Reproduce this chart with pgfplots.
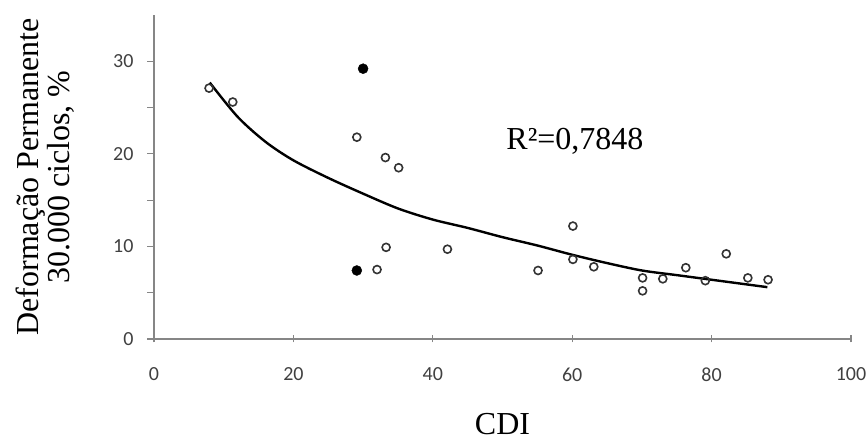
\documentclass[border=0pt]{standalone}
\usepackage{pgfplots}
\pgfplotsset{compat=1.18}
\usepackage{fontspec}
\setmainfont{Liberation Serif}
\newfontfamily\carlito{Carlito}
\definecolor{axisgray}{HTML}{868686}
\definecolor{ticktext}{HTML}{404040}
\definecolor{markgray}{HTML}{333333}
\begin{document}
\begin{tikzpicture}
\useasboundingbox (0,0) rectangle (868pt,441pt);
\begin{axis}[
    at={(154pt,102pt)}, anchor=south west,
    scale only axis,
    width=697pt, height=324pt,
    xmin=0, xmax=100, ymin=0, ymax=35,
    axis lines=left,
    axis line style={-, draw=axisgray, line width=1.6pt},
    xtick={0,20,...,100},
    ytick={0,10,20,30},
    minor ytick={5,15,25},
    tick align=outside,
    major tick length=7pt, minor tick length=7pt,
    tick style={draw=axisgray, line width=1.2pt},
    xtick style={yshift=3.5pt},
    /pgf/number format/assume math mode=true,
    tick label style={font=\carlito\fontsize{20}{24}\selectfont, text=ticktext},
    xticklabel style={yshift=-18pt},
    yticklabel style={xshift=-10pt},
    xlabel={CDI},
    xlabel style={at={(axis description cs:0.5,0)}, anchor=center, yshift=-85pt, inner sep=0pt, font=\fontsize{32}{36}\selectfont},
    ylabel={Deformação Permanente\\30.000 ciclos, \%},
    ylabel style={at={(axis description cs:0,0.5)}, anchor=center, yshift=109pt, inner sep=0pt, align=center, font=\fontsize{32}{31}\selectfont},
    clip=false,
]
% trend line
\addplot[smooth, line width=2.4pt, black] coordinates {
    (8,27.7) (12,24.0) (16,21.3) (20,19.3) (25,17.4) (30,15.7) (35,14.1)
    (40,12.9) (45,12.0) (50,11.0) (55,10.1) (60,9.1) (65,8.2) (70,7.4)
    (75,6.9) (80,6.4) (85,5.9) (88,5.6)
};
% open points
\addplot[only marks, mark=o, mark size=4pt, mark options={line width=1.6pt, draw=markgray}] coordinates {
    (7.9,27.1) (11.3,25.6) (29.1,21.8) (33.2,19.6) (35.1,18.5)
    (32.0,7.5) (33.3,9.9) (42.1,9.7) (55.1,7.4) (60.1,12.2) (60.1,8.6)
    (63.1,7.8) (70.1,6.6) (70.1,5.2) (73.0,6.5) (76.3,7.7) (79.1,6.3)
    (82.1,9.2) (85.2,6.6) (88.1,6.4)
};
% filled points
\addplot[only marks, mark=*, mark size=5pt, black] coordinates {
    (30.0,29.2) (29.1,7.4)
};
\node[font=\fontsize{32}{36}\selectfont, anchor=center] at (axis cs:60.4,21.3) {R²=0,7848};
\end{axis}
\end{tikzpicture}
\end{document}
